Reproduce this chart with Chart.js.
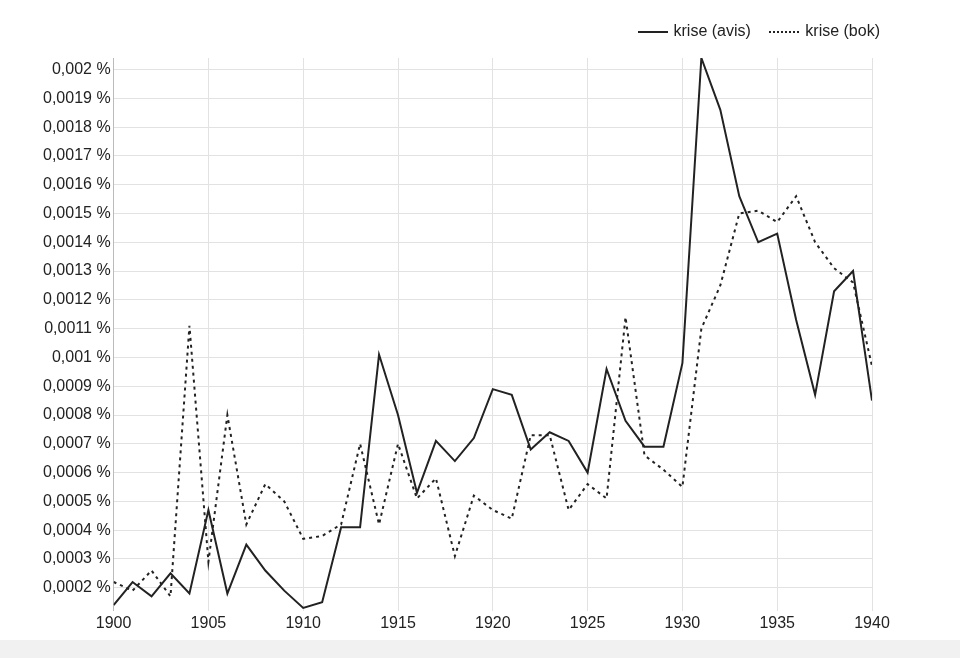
<!DOCTYPE html>
<html>
<head>
<meta charset="utf-8">
<script src="https://cdn.jsdelivr.net/npm/chart.js@4"></script>
<style>
  body { margin: 0; background: #fff; font-family: "Liberation Sans", Arial, sans-serif; }
  #wrap { position: relative; width: 960px; height: 640px; }
  #legend { position: absolute; top: 22px; right: 80px; font-size: 16px; color: #222; }
  #legend span.item { margin-left: 14px; }
  #legend span.ln { display: inline-block; width: 30px; vertical-align: middle; margin-right: 6px; }
  #strip { height: 18px; background: #f1f1f1; }
</style>
</head>
<body>
<div id="wrap">
  <div id="legend">
    <span class="item"><span class="ln" style="border-top:2px solid #222"></span>krise (avis)</span>
    <span class="item"><span class="ln" style="border-top:2px dotted #222"></span>krise (bok)</span>
  </div>
  <canvas id="chart" width="960" height="640"></canvas>
</div>
<div id="strip"></div>
<script>
// år 1900–1940
const years = [];
for (let y = 1900; y <= 1940; y++) years.push(y);

// krise (avis), prosent
const avis = [
  0.00014, 0.00022, 0.00017, 0.00025, 0.00018, 0.00047, 0.00018, 0.00035, 0.00026, 0.00019,
  0.00013, 0.00015, 0.00041, 0.00041, 0.00101, 0.0008, 0.00053, 0.00071, 0.00064, 0.00072,
  0.00089, 0.00087, 0.00068, 0.00074, 0.00071, 0.0006, 0.00096, 0.00078, 0.00069, 0.00069,
  0.00098, 0.00204, 0.00186, 0.00156, 0.0014, 0.00143, 0.00113, 0.00087, 0.00123, 0.0013,
  0.00085
];

// krise (bok), prosent
const bok = [
  0.00022, 0.00019, 0.00026, 0.00017, 0.00111, 0.00029, 0.0008, 0.00042, 0.00056, 0.0005,
  0.00037, 0.00038, 0.00042, 0.0007, 0.00042, 0.0007, 0.00051, 0.00058, 0.00031, 0.00052,
  0.00047, 0.00044, 0.00073, 0.00073, 0.00047, 0.00056, 0.00051, 0.00114, 0.00066, 0.00061,
  0.00055, 0.0011, 0.00125, 0.0015, 0.00151, 0.00147, 0.00156, 0.0014, 0.00131, 0.00126,
  0.00097
];

const toPoints = arr => arr.map((v, i) => ({ x: years[i], y: v }));
const fmt = v => String(Number(v.toFixed(4))).replace('.', ',') + ' %';

new Chart(document.getElementById('chart'), {
  type: 'line',
  data: {
    datasets: [
      { label: 'krise (avis)', data: toPoints(avis), borderColor: '#222', borderWidth: 2, pointRadius: 0, tension: 0 },
      { label: 'krise (bok)', data: toPoints(bok), borderColor: '#222', borderWidth: 2, borderDash: [3, 4], pointRadius: 0, tension: 0 }
    ]
  },
  options: {
    responsive: false,
    animation: false,
    layout: { padding: { top: 58, right: 88, left: 40, bottom: 4 } },
    plugins: { legend: { display: false }, tooltip: { enabled: false } },
    scales: {
      x: {
        type: 'linear', min: 1900, max: 1940,
        ticks: { stepSize: 5, color: '#222', font: { size: 16, family: 'Liberation Sans' }, callback: v => String(v) },
        grid: { color: '#e2e2e2', drawTicks: false },
        border: { display: false }
      },
      y: {
        min: 0.00012, max: 0.00204,
        afterBuildTicks: axis => {
          const t = [];
          for (let k = 2; k <= 20; k++) t.push({ value: k / 10000 });
          axis.ticks = t;
        },
        ticks: { color: '#222', font: { size: 16, family: 'Liberation Sans' }, callback: v => fmt(v) },
        grid: { color: '#e2e2e2', drawTicks: false },
        border: { color: '#bbb' }
      }
    }
  }
});
</script>
</body>
</html>
